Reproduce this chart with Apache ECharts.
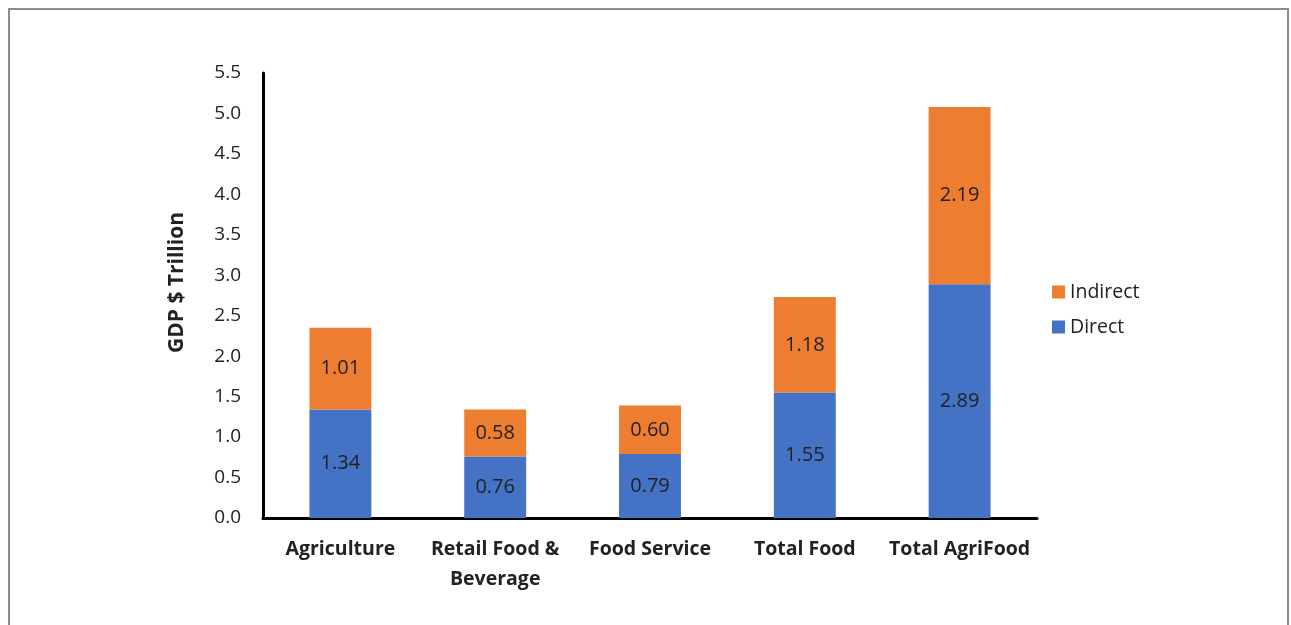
<!DOCTYPE html>
<html><head><meta charset="utf-8">
<script src="https://cdn.jsdelivr.net/npm/echarts@6/dist/echarts.min.js"></script>
<style>
html,body{margin:0;padding:0;background:#fff;}
#frame{position:absolute;left:8px;top:8px;width:1281px;height:630px;border:2px solid #8c8c8c;box-sizing:border-box;}
#c{position:absolute;left:0;top:0;width:1291px;height:625px;}
</style></head>
<body>
<div id="frame"></div>
<div id="c"></div>
<script>
const categories = ['Agriculture', 'Retail Food &\nBeverage', 'Food Service', 'Total Food', 'Total AgriFood'];
const directValues = [1.34, 0.76, 0.79, 1.55, 2.89];
const indirectValues = [1.01, 0.58, 0.60, 1.18, 2.19];
const yTicks = [0, 0.5, 1.0, 1.5, 2.0, 2.5, 3.0, 3.5, 4.0, 4.5, 5.0, 5.5];

const font = '"Open Sans", sans-serif';
const chart = echarts.init(document.getElementById('c'));
chart.setOption({
  animation: false,
  textStyle: {fontFamily: font},
  grid: {left: 263, right: 254, top: 73, bottom: 107, containLabel: false},
  legend: {
    orient: 'vertical', left: 1047, top: 277, itemWidth: 13, itemHeight: 13, itemGap: 15,
    icon: 'rect',
    data: ['Indirect', 'Direct'],
    textStyle: {fontFamily: font, fontSize: 19.5, color: '#222'}
  },
  xAxis: {
    type: 'category', data: categories,
    axisLine: {lineStyle: {color: '#000', width: 3}},
    axisTick: {show: false},
    axisLabel: {fontFamily: font, fontSize: 19.5, fontWeight: 'bold', color: '#222', margin: 16, lineHeight: 30, interval: 0}
  },
  yAxis: {
    type: 'value', min: yTicks[0], max: yTicks[yTicks.length - 1], interval: 0.5,
    name: 'GDP $ Trillion', nameLocation: 'middle', nameGap: 75, nameRotate: 90,
    nameTextStyle: {fontFamily: font, fontSize: 21, fontWeight: 'bold', color: '#222', padding: [0, 0, 0, 26]},
    axisLine: {show: true, lineStyle: {color: '#000', width: 3}},
    axisTick: {show: false},
    splitLine: {show: false},
    axisLabel: {fontFamily: font, fontSize: 19, color: '#222', margin: 22, formatter: v => v.toFixed(1)}
  },
  series: [
    {name: 'Direct', type: 'bar', stack: 't', data: directValues, barWidth: '40%',
     itemStyle: {color: '#4472C4'},
     label: {show: true, position: 'inside', fontFamily: font, fontSize: 20, color: '#222', formatter: p => p.value.toFixed(2)}},
    {name: 'Indirect', type: 'bar', stack: 't', data: indirectValues, barWidth: '40%',
     itemStyle: {color: '#ED7D31'},
     label: {show: true, position: 'inside', fontFamily: font, fontSize: 20, color: '#222', formatter: p => p.value.toFixed(2)}}
  ]
});
</script>
</body></html>
